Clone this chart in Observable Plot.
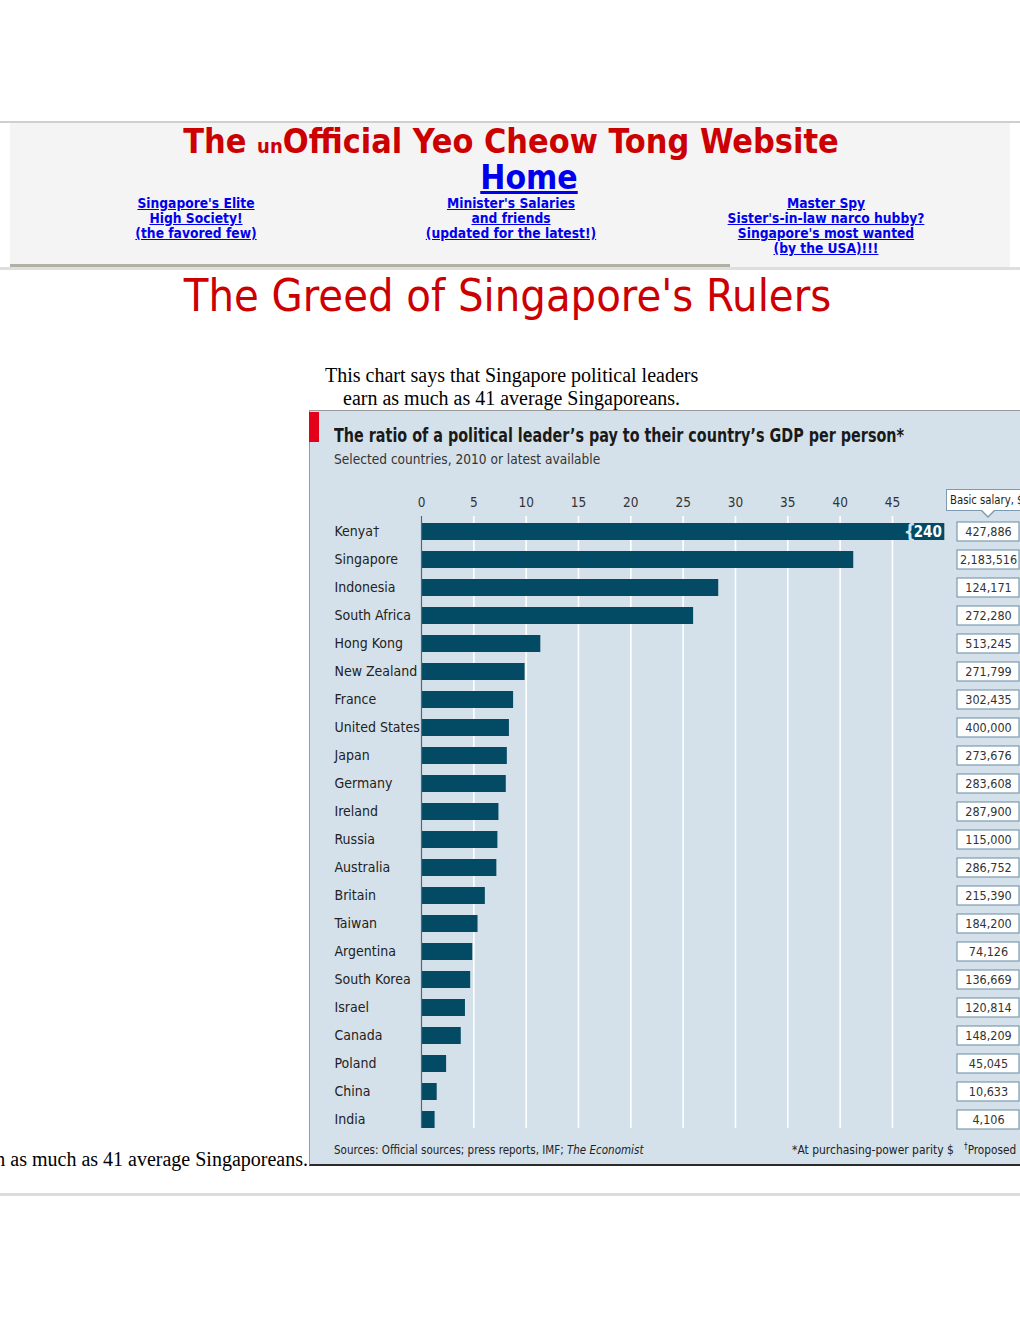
<!DOCTYPE html>
<html><head><meta charset="utf-8">
<script src="https://cdn.jsdelivr.net/npm/d3@7"></script>
<script src="https://cdn.jsdelivr.net/npm/@observablehq/plot@0.6"></script>
<style>
html,body{margin:0;padding:0;background:#fff;}
body{width:1020px;height:1320px;overflow:hidden;position:relative;}
.a{position:absolute;white-space:nowrap;}
.cond{font-family:"DejaVu Sans Condensed","DejaVu Sans",sans-serif;font-stretch:condensed;}
.sx{transform-origin:0 50%;}
.serif{font-family:"Liberation Serif","Times New Roman",serif;font-size:20px;color:#000;}
.links a{color:#0000ee;font-weight:bold;text-decoration:underline;}
.col{position:absolute;top:196px;text-align:center;line-height:15px;font-size:13.7px;width:320px;}
#chart svg,#salary svg{max-width:none;}
</style></head><body>
<div class="a" style="left:0;top:121px;width:1020px;height:2px;background:#cfcfcf"></div>
<div class="a" style="left:10px;top:123px;width:1000px;height:144px;background:#f4f4f4"></div>
<div class="a" style="left:10px;top:264px;width:720px;height:3px;background:#b2afa4"></div>
<div class="a" style="left:0;top:267px;width:1020px;height:3px;background:#dedede"></div>

<div class="a cond" style="left:0;width:1022px;top:122px;text-align:center;font-weight:bold;font-size:33.9px;color:#cc0000">The <span style="font-size:20px">un</span>Official Yeo Cheow Tong Website</div>
<div class="a cond links" style="left:0;width:1058px;top:158px;text-align:center;"><a style="font-size:33.4px">Home</a></div>

<div class="cond links">
<div class="col" style="left:36px"><a>Singapore's Elite</a><br><a>High Society!</a><br><a>(the favored few)</a></div>
<div class="col" style="left:351px"><a>Minister's Salaries</a><br><a>and friends</a><br><a>(updated for the latest!)</a></div>
<div class="col" style="left:666px"><a>Master Spy</a><br><a>Sister's-in-law narco hubby?</a><br><a>Singapore's most wanted</a><br><a>(by the USA)!!!</a></div>
</div>

<div class="a cond" style="left:0;width:1015px;top:269px;text-align:center;font-size:44.8px;color:#cc0000">The Greed of Singapore's Rulers</div>

<div class="a serif" style="left:325px;top:364px">This chart says that Singapore political leaders</div>
<div class="a serif" style="left:343px;top:387px">earn as much as 41 average Singaporeans.</div>
<div class="a serif" style="right:712px;top:1148px">earn as much as 41 average Singaporeans.</div>

<!-- chart panel -->
<div class="a" style="left:309px;top:410px;width:720px;height:753px;background:#d5e1ea;border-top:1px solid #9a9a9a;border-left:1px solid #9a9a9a;border-bottom:2px solid #2a2a2a"></div>
<div class="a" style="left:309px;top:412px;width:10px;height:30px;background:#e3001b"></div>
<div class="a cond sx" style="left:334px;top:424px;font-size:19px;font-weight:bold;color:#1a1a1a;transform:scaleX(0.84)">The ratio of a political leader’s pay to their country’s GDP per person*</div>
<div class="a cond sx" style="left:334px;top:451px;font-size:14.5px;color:#333;transform:scaleX(0.937)">Selected countries, 2010 or latest available</div>

<div id="chart" class="a" style="left:309px;top:485px;width:650px"></div>
<div id="salary" class="a" style="left:956px;top:485px;width:64px"></div>

<div class="a cond" style="left:946px;top:489px;width:90px;height:20px;background:#fff;border:1px solid #7d9bb0;"></div>
<div class="a cond sx" style="left:950px;top:490px;font-size:12.5px;line-height:20px;color:#222;transform:scaleX(0.9)">Basic salary, $</div>
<div class="a" style="left:980px;top:510px;width:0;height:0;border-left:8px solid transparent;border-right:8px solid transparent;border-top:8px solid #7d9bb0"></div>
<div class="a" style="left:981px;top:509px;width:0;height:0;border-left:7px solid transparent;border-right:7px solid transparent;border-top:7px solid #fff"></div>

<div class="a cond sx" style="left:334px;top:1142px;font-size:13px;color:#222;transform:scaleX(0.886)">Sources: Official sources; press reports, IMF; <i>The Economist</i></div>
<div class="a cond sx" style="left:792px;top:1142px;font-size:13px;color:#222;transform:scaleX(0.92)">*At purchasing-power parity $</div>
<div class="a cond sx" style="left:964px;top:1142px;font-size:13px;color:#222;transform:scaleX(0.9)"><span style="font-size:9px;position:relative;top:-5px">†</span>Proposed</div>

<div class="a" style="left:0;top:1193px;width:1020px;height:3px;background:#dcdcdc"></div>

<script>
const countries = ["Kenya","Singapore","Indonesia","South Africa","Hong Kong","New Zealand","France","United States","Japan","Germany","Ireland","Russia","Australia","Britain","Taiwan","Argentina","South Korea","Israel","Canada","Poland","China","India"];
const ratios = [240, 41.3, 28.4, 26.0, 11.4, 9.9, 8.8, 8.4, 8.2, 8.1, 7.4, 7.3, 7.2, 6.1, 5.4, 4.9, 4.7, 4.2, 3.8, 2.4, 1.5, 1.3];
const salaries = [427886, 2183516, 124171, 272280, 513245, 271799, 302435, 400000, 273676, 283608, 287900, 115000, 286752, 215390, 184200, 74126, 136669, 120814, 148209, 45045, 10633, 4106];
const proposed = ["Kenya"];
const xTicks = [0, 5, 10, 15, 20, 25, 30, 35, 40, 45];

const rows = countries.map((c, i) => ({country: c, ratio: ratios[i], salary: salaries[i]}));
const label = c => proposed.includes(c) ? c + "†" : c;
const FONT = '"DejaVu Sans Condensed","DejaVu Sans",sans-serif';
const yOpts = () => ({domain: countries, paddingInner: 0.4, paddingOuter: 0.2, axis: null, label: null});

const chart = Plot.plot({
  width: 650, height: 655,
  marginLeft: 112, marginRight: 10, marginTop: 31, marginBottom: 6,
  style: {fontFamily: FONT, fontStretch: "condensed", background: "transparent", overflow: "visible"},
  x: {domain: [0, 50], range: [112, 635.3], clamp: true, axis: null, label: null},
  y: yOpts(),
  marks: [
    Plot.gridX(xTicks.filter(d => d > 0), {stroke: "#fff", strokeOpacity: 1, strokeWidth: 1.6, insetBottom: 6}),
    Plot.barX(rows, {x: "ratio", y: "country", fill: "#034b64"}),
    Plot.text(rows, {filter: d => d.ratio > 50, x: "ratio", y: "country", text: d => String(d.ratio), textAnchor: "end", dx: -3, fill: "#fff", fontWeight: "bold", fontSize: 15}),
    Plot.text(rows, {filter: d => d.ratio > 50, x: "ratio", y: "country", text: () => "{", textAnchor: "middle", dx: -35, fill: "#d5e1ea", fontWeight: "bold", fontSize: 19}),
    Plot.ruleX([0], {stroke: "#50697a", strokeWidth: 1.2, insetBottom: 6}),
    Plot.axisX({anchor: "top", ticks: xTicks, tickSize: 0, tickPadding: 10, fontSize: 13.5, fill: "#333", label: null}),
    Plot.axisY({anchor: "left", tickSize: 0, tickPadding: 87, textAnchor: "start", tickFormat: label, fontSize: 14, fill: "#222", label: null})
  ]
});
document.getElementById("chart").appendChild(chart);

const fmt = d3.format(",");
const sal = Plot.plot({
  width: 64, height: 655,
  marginLeft: 1, marginRight: 1, marginTop: 31, marginBottom: 6,
  style: {fontFamily: FONT, fontStretch: "condensed", background: "transparent", overflow: "visible"},
  y: yOpts(),
  marks: [
    Plot.cell(rows, {y: "country", fill: "#fff", stroke: "#7d9bb0", strokeWidth: 1.2, insetTop: -1, insetBottom: -1}),
    Plot.text(rows, {y: "country", text: d => fmt(d.salary), frameAnchor: "middle", fontSize: 12.5, fill: "#333"})
  ]
});
document.getElementById("salary").appendChild(sal);
</script>
</body></html>
